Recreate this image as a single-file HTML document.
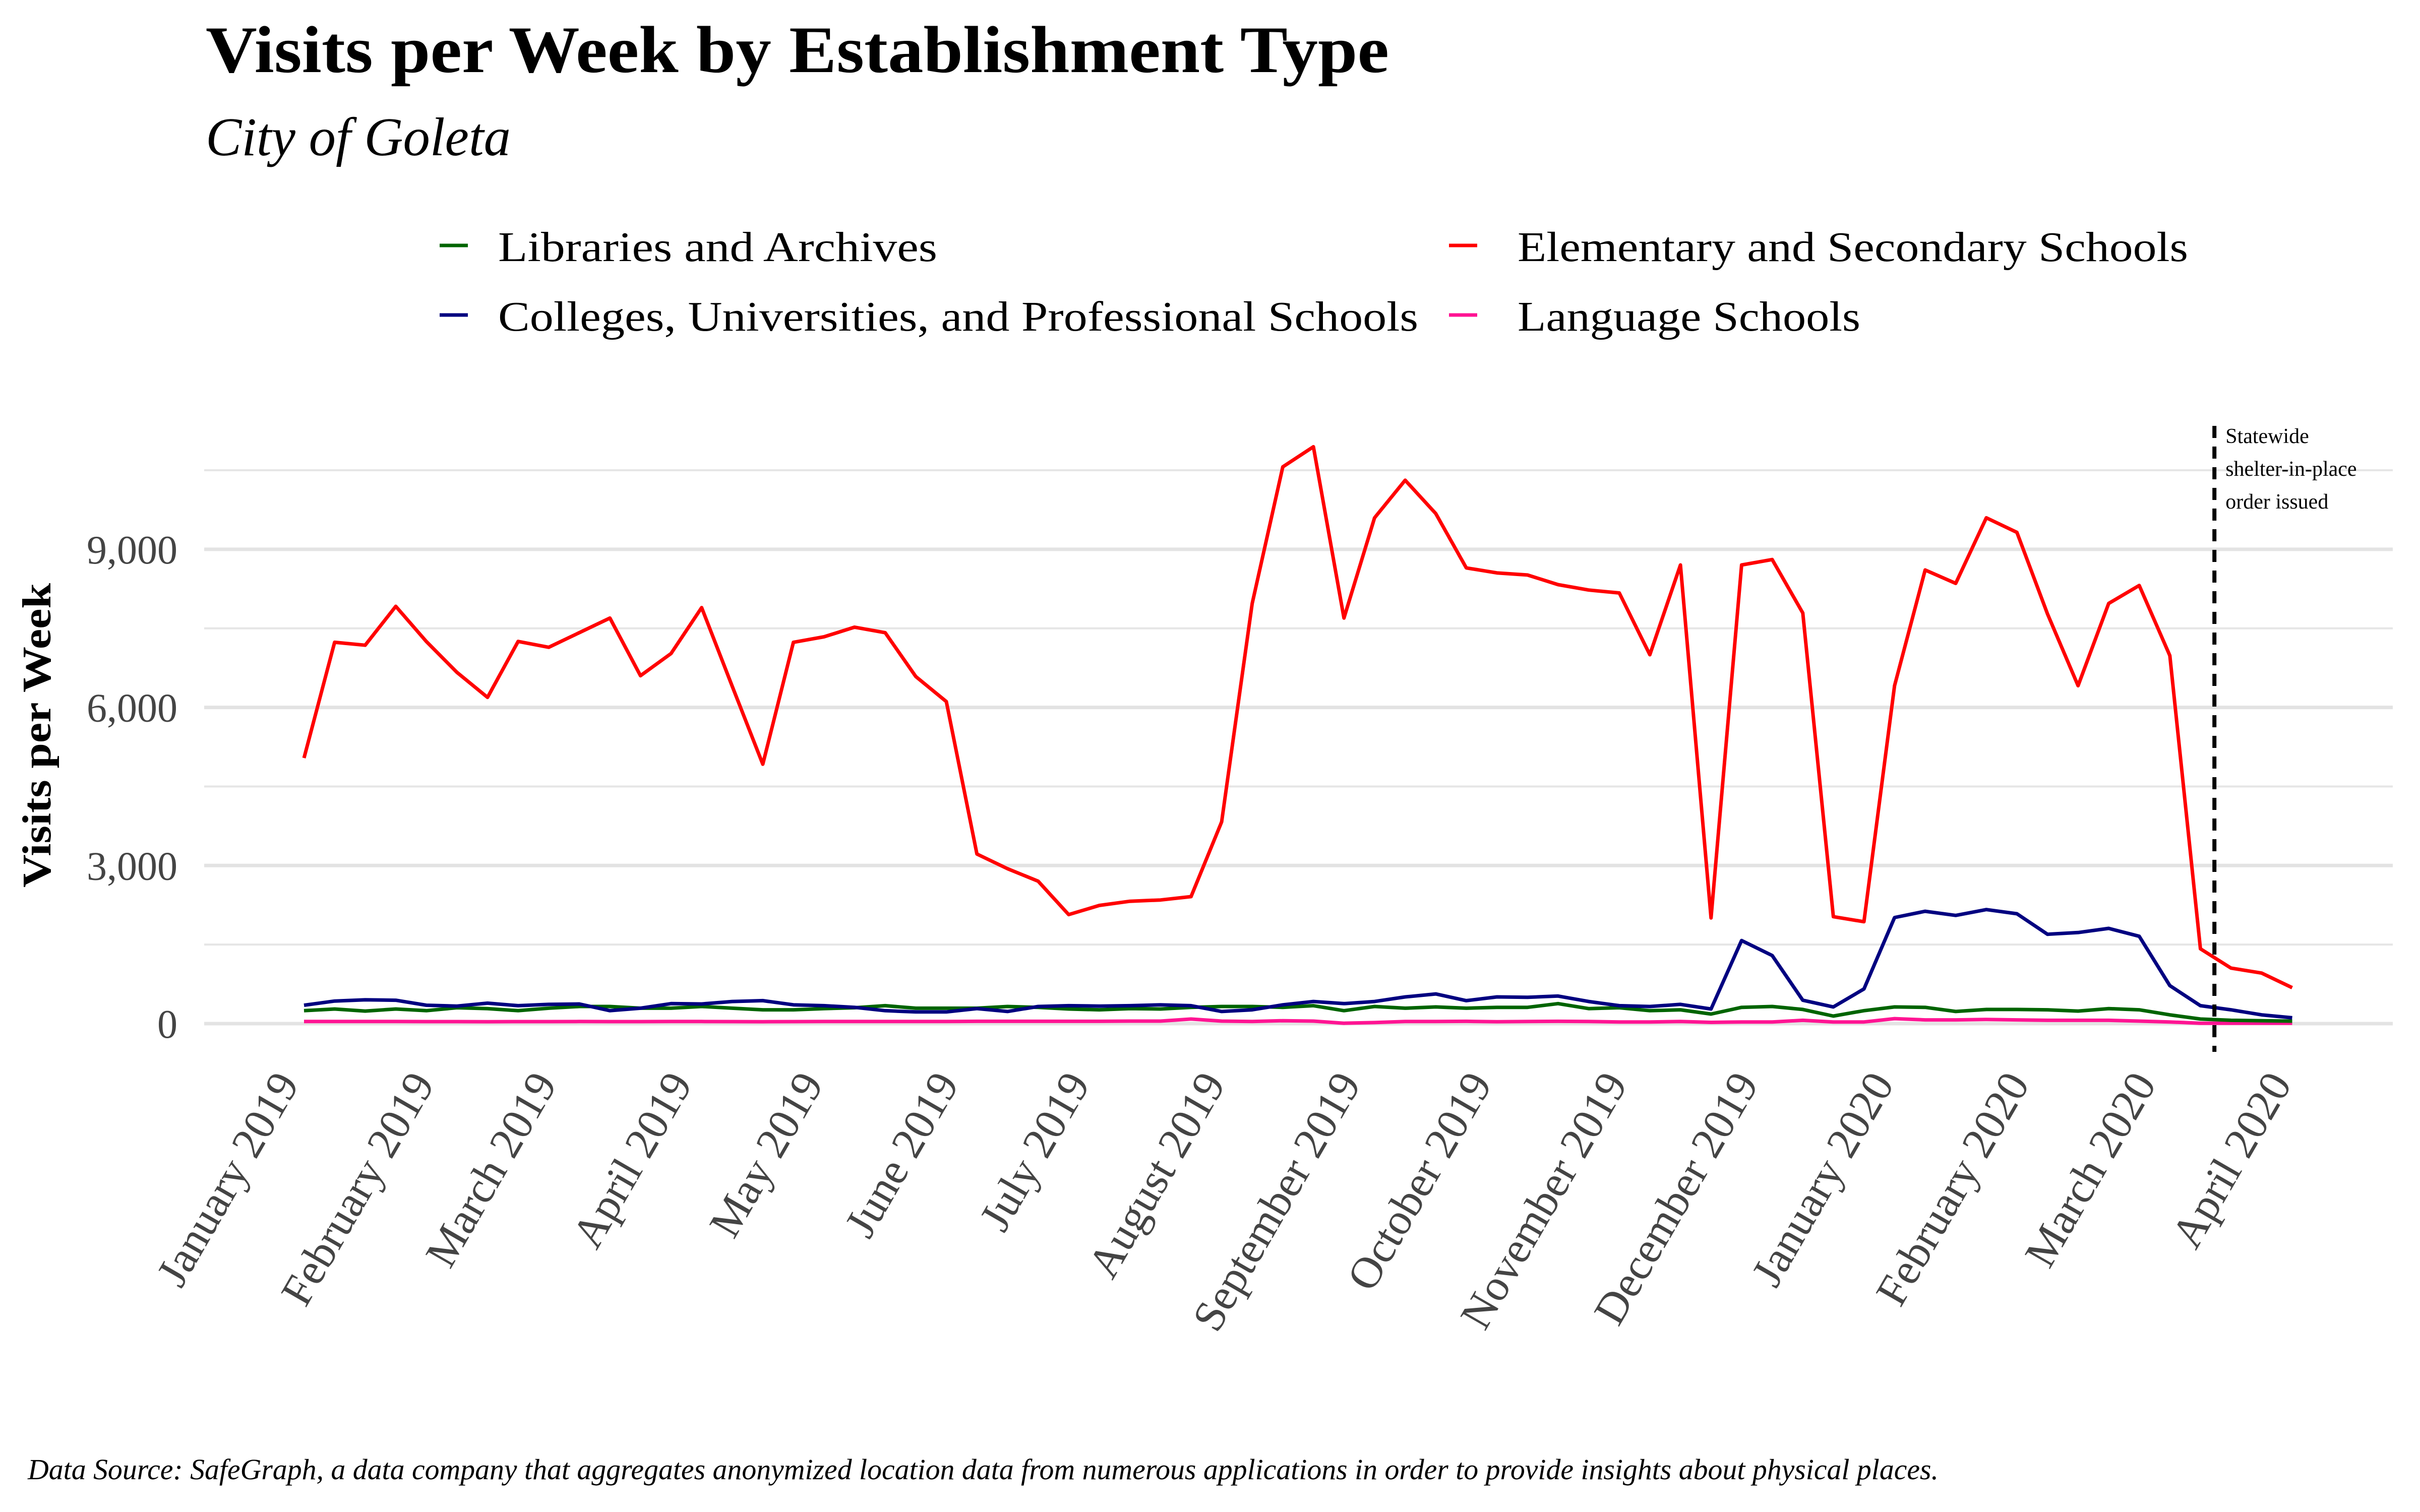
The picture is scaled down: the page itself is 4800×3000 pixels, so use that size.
<!DOCTYPE html>
<html><head><meta charset="utf-8"><style>
html,body{margin:0;padding:0;background:#fff;}
svg{display:block;font-family:"Liberation Serif",serif;}
</style></head><body>
<svg id="chart" width="4800" height="3000" viewBox="0 0 4800 3000" xmlns="http://www.w3.org/2000/svg">
<text x="408" y="143" font-size="132" font-weight="bold" textLength="2347" lengthAdjust="spacingAndGlyphs">Visits per Week by Establishment Type</text>
<text x="408" y="308" font-size="108" font-style="italic" textLength="605" lengthAdjust="spacingAndGlyphs">City of Goleta</text>
<g id="legend"></g>
<g id="grid"></g>
<g id="yticks"></g>
<g id="xticks"></g>
<g id="series"></g>
<g id="annot"></g>
<text transform="translate(100,1459) rotate(-90)" text-anchor="middle" font-size="80" font-weight="bold" textLength="604" lengthAdjust="spacingAndGlyphs">Visits per Week</text>
<text x="55" y="2935" font-size="58" font-style="italic" textLength="3790" lengthAdjust="spacingAndGlyphs">Data Source: SafeGraph, a data company that aggregates anonymized location data from numerous applications in order to provide insights about physical places.</text>
</svg>
<script>
const seriesNames = ["Libraries and Archives","Elementary and Secondary Schools","Colleges, Universities, and Professional Schools","Language Schools"];
const elementary = [5040,7236,7180,7918,7250,6666,6190,7252,7141,7418,7696,6602,7022,7894,6400,4922,7236,7340,7522,7418,6586,6111,3218,2940,2703,2069,2243,2322,2346,2410,3828,7973,10565,10946,7696,9598,10311,9678,8647,8552,8512,8330,8227,8172,6999,8703,2005,8703,8806,7791,2029,1934,6412,8608,8354,9598,9321,7775,6412,7973,8314,6983,1419,1054,959,682];
const colleges = [349,428,452,444,349,333,388,340,365,373,246,293,380,373,420,436,357,340,309,246,222,222,285,230,325,340,333,340,357,340,230,262,357,420,380,420,507,563,436,507,499,523,420,340,325,365,277,1577,1292,444,317,658,2013,2132,2053,2164,2085,1696,1728,1807,1657,721,340,262,166,111];
const libraries = [246,277,238,277,246,301,285,246,293,325,325,293,293,325,293,262,262,285,301,340,293,293,293,325,309,277,262,285,277,309,325,325,309,340,246,325,293,317,293,309,309,380,285,301,246,262,182,309,325,269,143,246,317,309,230,269,269,262,238,285,262,166,87,63,55,48];
const language = [40,40,40,40,38,38,36,38,38,40,38,38,40,40,38,36,38,40,40,40,40,40,44,44,44,44,44,48,48,87,48,40,55,48,8,20,40,40,44,36,40,44,40,32,32,40,24,32,32,63,32,32,95,71,71,79,71,63,63,63,48,32,8,8,8,8];
const yTicks = [0,3000,6000,9000];
const yMinor = [1500,4500,7500,10500];
const yTickLabels = ["0","3,000","6,000","9,000"];
const monthLabels = ["January 2019","February 2019","March 2019","April 2019","May 2019","June 2019","July 2019","August 2019","September 2019","October 2019","November 2019","December 2019","January 2020","February 2020","March 2020","April 2020"];
const monthDays = [0,31,59,90,120,151,181,212,243,273,304,334,365,396,425,456];
const eventDay = 437.2;
const annotationLines = ["Statewide"," shelter-in-place","order issued"];

const NS="http://www.w3.org/2000/svg";
const X0=603, PXDAY=8.667, Y0=2031, PXVAL=313.7/3000;
function xDay(d){return X0+d*PXDAY;}
function xWeek(i){return xDay(i*7);}
function yVal(v){return Y0-v*PXVAL;}
function mk(tag,parent,attrs){const e=document.createElementNS(NS,tag);for(const k in attrs)e.setAttribute(k,attrs[k]);parent.appendChild(e);return e;}

const grid=document.getElementById('grid');
yMinor.forEach(v=>{const l=mk('line',grid,{x1:405,x2:4746,y1:yVal(v),y2:yVal(v),stroke:'#e6e6e6','stroke-width':4});

});
yTicks.forEach(v=>{const l=mk('line',grid,{x1:405,x2:4746,y1:yVal(v),y2:yVal(v),stroke:'#e3e3e3','stroke-width':7});

});

const yt=document.getElementById('yticks');
yTicks.forEach((v,i)=>{const t=mk('text',yt,{x:352,y:yVal(v)+28,'text-anchor':'end','font-size':80,fill:'#444'});t.textContent=yTickLabels[i];

});

const xt=document.getElementById('xticks');
monthLabels.forEach((m,i)=>{const x=xDay(monthDays[i])-8,y=2150;
const t=mk('text',xt,{transform:`translate(${x},${y}) rotate(-60)`,'text-anchor':'end','font-size':88,fill:'#444'});t.textContent=m;

});

const colors=["#006400","#ff0000","#000080","#ff1493"];
const data=[libraries,elementary,colleges,language];
const names=["line-libraries","line-elementary","line-colleges","line-language"];
const sg=document.getElementById('series');
[3,0,2,1].forEach(k=>{const pts=data[k].map((v,i)=>xWeek(i).toFixed(1)+','+yVal(v).toFixed(1)).join(' ');
const p=mk('polyline',sg,{points:pts,fill:'none',stroke:colors[k],'stroke-width':7,'stroke-linejoin':'round'});

});

const an=document.getElementById('annot');
const ex=xDay(eventDay);
const dl=mk('line',an,{x1:ex,x2:ex,y1:845,y2:2087,stroke:'#000','stroke-width':8,'stroke-dasharray':'24,17'});


annotationLines.forEach((s,i)=>{const t=mk('text',an,{x:ex+22,y:879+i*65,'font-size':42,fill:'#000','xml:space':'preserve'});t.textContent=s;

});

const lg=document.getElementById('legend');
const legPos=[[872,487,988,518,871],[2874,487,3010,518,1330],[872,625,988,656,1825],[2874,625,3010,656,680]];
[0,1,2,3].forEach(k=>{const [kx,ky,tx,ty,w]=legPos[k];
const g=mk('g',lg,{});


mk('line',g,{x1:kx,x2:kx+56,y1:ky,y2:ky,stroke:colors[k],'stroke-width':7});
const t=mk('text',g,{x:tx,y:ty,'font-size':84,textLength:w,lengthAdjust:'spacingAndGlyphs'});t.textContent=seriesNames[k];});
</script>
</body></html>
